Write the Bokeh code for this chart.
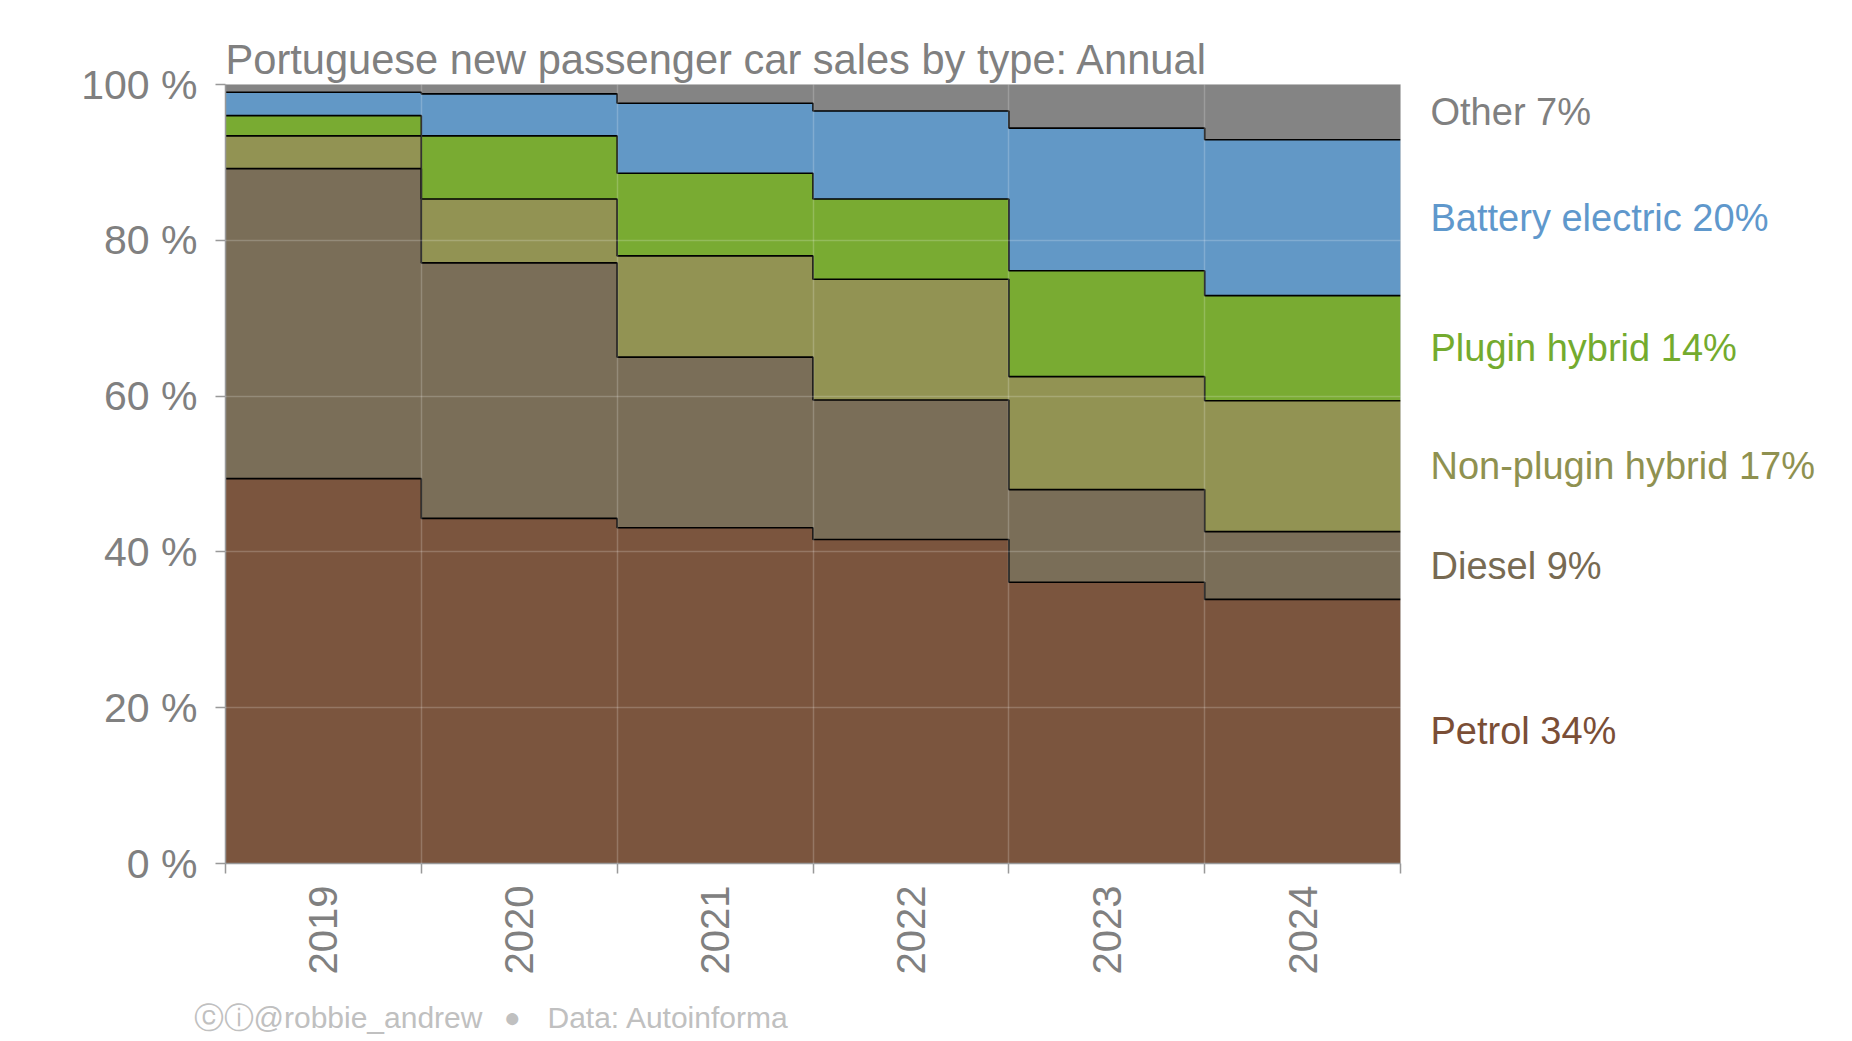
import math

from bokeh.plotting import figure
from bokeh.layouts import row, column
from bokeh.models import Range1d, FixedTicker
from bokeh.core.properties import value
from bokeh.embed import file_html
from bokeh.resources import INLINE

# shares of new passenger car sales, % per year
years = [2019, 2020, 2021, 2022, 2023, 2024]
petrol = [49.4, 44.3, 43.1, 41.6, 36.1, 33.9]
diesel = [39.8, 32.8, 21.9, 17.9, 11.9, 8.7]
non_plugin = [4.2, 8.2, 13.0, 15.5, 14.5, 16.8]
plugin = [2.6, 8.1, 10.6, 10.3, 13.6, 13.5]
battery = [3.0, 5.4, 9.0, 11.3, 18.3, 20.0]
other = [1.0, 1.2, 2.4, 3.4, 5.6, 7.1]

names = ["Petrol", "Diesel", "Non-plugin hybrid", "Plugin hybrid", "Battery electric", "Other"]
series = [petrol, diesel, non_plugin, plugin, battery, other]
fill_colors = ["#7b553e", "#7a6e58", "#929353", "#79ab32", "#6298c6", "#848484"]
text_colors = ["#7a4e36", "#776a52", "#8f9150", "#74ab2e", "#5f98cc", "#808080"]
y_ticks = [0, 20, 40, 60, 80, 100]

title = "Portuguese new passenger car sales by type: Annual"
credit = "ⓒⓘ@robbie_andrew"
source = "Data: Autoinforma"

FONT = "Liberation Sans"
GREY = "#808080"
FOOT = "#c0c0c0"

edges = [y - 0.5 for y in years] + [years[-1] + 0.5]

p = figure(width=1404, height=988, output_backend="svg", toolbar_location=None,
           x_range=Range1d(edges[0], edges[-1]), y_range=Range1d(0, 100),
           min_border_left=225, min_border_right=4, min_border_top=84, min_border_bottom=125)
p.background_fill_color = "white"
p.border_fill_color = "white"
p.outline_line_color = "#d0d0d0"

# stacked step areas
bottom = [0.0] * len(years)
tops = []
for vals, col in zip(series, fill_colors):
    top = [b + v for b, v in zip(bottom, vals)]
    p.varea_step(x=edges, y1=bottom + [bottom[-1]], y2=top + [top[-1]],
                 step_mode="after", fill_color=col, fill_alpha=1.0)
    tops.append(top)
    bottom = top

# black boundary lines on top of each band (except the 100% top)
for top in tops[:-1]:
    p.step(x=edges, y=top + [top[-1]], mode="after", line_color="black", line_width=1.6)

# axes
for ax in (p.xaxis, p.yaxis):
    ax.axis_line_color = "#999999"
    ax.axis_line_width = 1.5
    ax.major_label_text_color = GREY
    ax.major_label_text_font = FONT

p.xaxis.major_label_text_font_size = "40px"
p.yaxis.major_label_text_font_size = "41px"

p.xaxis.ticker = FixedTicker(ticks=years, minor_ticks=edges)
p.xaxis.major_tick_line_color = None
p.xaxis.minor_tick_line_color = "#999999"
p.xaxis.minor_tick_line_width = 1.5
p.xaxis.minor_tick_in = 0
p.xaxis.minor_tick_out = 10
p.xaxis.major_label_orientation = math.pi / 2
p.xaxis.major_label_standoff = 12

p.yaxis.ticker = FixedTicker(ticks=y_ticks)
p.yaxis.major_label_overrides = {t: f"{t} %" for t in y_ticks}
p.yaxis.major_tick_line_color = "#999999"
p.yaxis.major_tick_line_width = 1.5
p.yaxis.major_tick_in = 0
p.yaxis.major_tick_out = 10
p.yaxis.minor_tick_line_color = None
p.yaxis.major_label_standoff = 18

p.xgrid.ticker = FixedTicker(ticks=edges)
for g in (p.xgrid, p.ygrid):
    g.grid_line_color = "white"
    g.grid_line_alpha = 0.2
    g.grid_line_width = 1.5
    g.level = "guide"

# title
p.title.text = title
p.title.text_font = FONT
p.title.text_font_size = "41.6px"
p.title.text_font_style = "normal"
p.title.text_color = GREY
p.title.align = "left"
p.title.standoff = 3

# labels at the right, in the middle of each band of the last year
q = figure(width=440, height=988, output_backend="svg", toolbar_location=None,
           x_range=Range1d(0, 440), y_range=p.y_range,
           x_axis_location=None, y_axis_location=None,
           min_border_left=0, min_border_right=0, min_border_top=84, min_border_bottom=125)
q.grid.visible = False
q.outline_line_color = None
q.background_fill_color = "white"
q.border_fill_color = "white"

mids, labels = [], []
low = 0.0
for name, vals, top in zip(names, series, tops):
    mids.append((low + top[-1]) / 2)
    labels.append(f"{name} {int(vals[-1] + 0.5)}%")
    low = top[-1]

q.text(x=[26] * len(labels), y=mids, text=labels, text_color=text_colors,
       text_font=value(FONT), text_font_size="38px",
       text_baseline="middle", text_align="left")

# footer strip
f = figure(width=1844, height=50, output_backend="svg", toolbar_location=None,
           x_range=Range1d(0, 1844), y_range=Range1d(0, 50),
           x_axis_location=None, y_axis_location=None,
           min_border_left=0, min_border_right=0, min_border_top=0, min_border_bottom=0)
f.grid.visible = False
f.outline_line_color = None
f.background_fill_color = "white"
f.border_fill_color = "white"
f.text(x=[193], y=[21], text=[credit], text_color=FOOT, text_font=value(FONT),
       text_font_size="30px", text_baseline="alphabetic", text_align="left")
f.text(x=[512], y=[21], text=["●"], text_color=FOOT, text_font=value(FONT),
       text_font_size="28px", text_baseline="alphabetic", text_align="center")
f.text(x=[547], y=[21], text=[source], text_color=FOOT, text_font=value(FONT),
       text_font_size="30px", text_baseline="alphabetic", text_align="left")

layout = column(row(p, q), f)
open("out.html", "w").write(file_html(layout, INLINE))
